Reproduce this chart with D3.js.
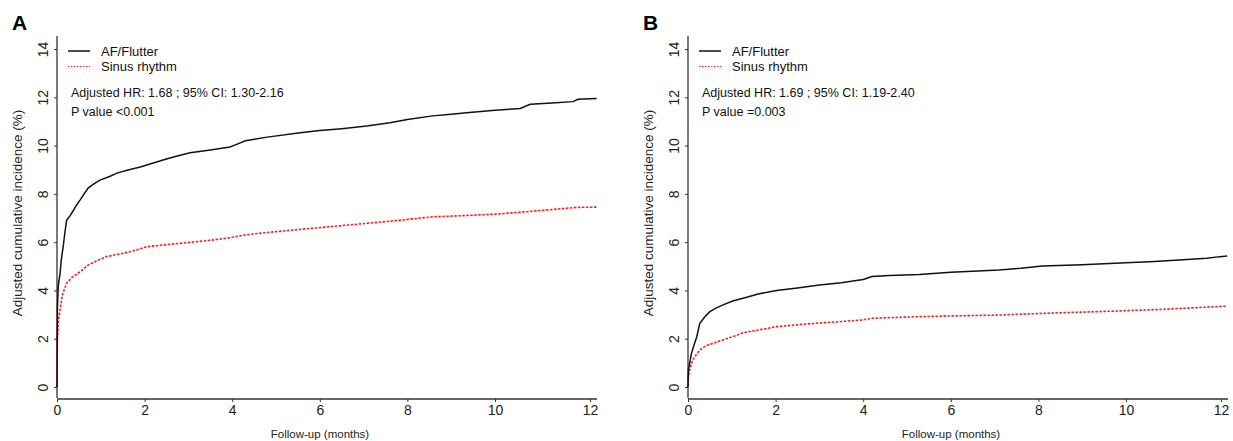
<!DOCTYPE html>
<html>
<head>
<meta charset="utf-8">
<script src="https://cdn.jsdelivr.net/npm/d3@7"></script>
<style>
    body { margin: 0; background: #fff; }
    svg { font-family: "Liberation Sans", Arial, sans-serif; }
</style>
</head>
<body>
<div class="chart"></div>
<script>
// ---- data ----
var xTicks = [0, 2, 4, 6, 8, 10, 12];
var yTicks = [0, 2, 4, 6, 8, 10, 12, 14];
var seriesNames = ["AF/Flutter", "Sinus rhythm"];

// panel A
var timeA_af = [0, 0.01, 0.03, 0.07, 0.1, 0.14, 0.18, 0.22, 0.3, 0.37, 0.45, 0.53, 0.62, 0.71, 0.85, 0.98, 1.2, 1.37, 1.6, 1.9, 2.2, 2.42, 2.7, 3.04, 3.5, 3.95, 4.1, 4.3, 4.8, 5.55, 6.0, 6.5, 7.07, 7.6, 8.0, 8.58, 9.0, 9.35, 10.0, 10.53, 10.74, 11.2, 11.64, 11.75, 12.14];
var incA_af = [0, 3.3, 4.2, 4.7, 5.3, 5.8, 6.4, 6.9, 7.1, 7.3, 7.55, 7.75, 8.0, 8.24, 8.42, 8.57, 8.72, 8.86, 8.98, 9.11, 9.28, 9.4, 9.55, 9.7, 9.82, 9.94, 10.05, 10.2, 10.35, 10.53, 10.62, 10.7, 10.81, 10.95, 11.08, 11.23, 11.3, 11.36, 11.46, 11.54, 11.71, 11.76, 11.82, 11.92, 11.95];
var timeA_sr = [0, 0.01, 0.03, 0.07, 0.12, 0.22, 0.35, 0.53, 0.71, 0.9, 1.13, 1.4, 1.67, 2.05, 2.4, 2.81, 3.2, 3.56, 3.95, 4.3, 4.8, 5.55, 6.3, 7.07, 7.8, 8.58, 9.3, 10.1, 10.66, 11.2, 11.71, 12.14];
var incA_sr = [0, 2.0, 2.7, 3.2, 3.8, 4.3, 4.55, 4.78, 5.05, 5.22, 5.4, 5.5, 5.6, 5.81, 5.88, 5.95, 6.02, 6.09, 6.18, 6.3, 6.4, 6.53, 6.65, 6.78, 6.9, 7.05, 7.1, 7.17, 7.26, 7.35, 7.44, 7.45];
var statsA = ["Adjusted HR: 1.68 ; 95% CI: 1.30-2.16", "P value <0.001"];

// panel B
var timeB_af = [0, 0.01, 0.04, 0.08, 0.14, 0.2, 0.27, 0.38, 0.5, 0.65, 0.8, 1.02, 1.3, 1.6, 2.02, 2.5, 3.0, 3.5, 4.0, 4.2, 4.6, 5.28, 6.0, 7.1, 7.6, 8.09, 9.0, 10.0, 10.6, 11.2, 11.7, 11.98, 12.13];
var incB_af = [0, 0.7, 1.0, 1.4, 1.75, 2.08, 2.64, 2.9, 3.12, 3.28, 3.4, 3.56, 3.7, 3.85, 4.0, 4.1, 4.22, 4.32, 4.45, 4.58, 4.62, 4.66, 4.75, 4.85, 4.92, 5.01, 5.06, 5.15, 5.2, 5.27, 5.33, 5.4, 5.43];
var timeB_sr = [0, 0.01, 0.04, 0.08, 0.15, 0.27, 0.4, 0.57, 0.8, 1.02, 1.26, 1.6, 2.02, 2.5, 2.93, 3.5, 3.99, 4.22, 5.21, 6.2, 7.1, 8.09, 9.0, 10.0, 10.8, 11.62, 12.13];
var incB_sr = [0, 0.43, 0.7, 0.98, 1.25, 1.53, 1.7, 1.81, 1.95, 2.08, 2.25, 2.36, 2.5, 2.58, 2.64, 2.71, 2.78, 2.85, 2.91, 2.95, 2.98, 3.05, 3.1, 3.16, 3.22, 3.3, 3.35];
var statsB = ["Adjusted HR: 1.69 ; 95% CI: 1.19-2.40", "P value =0.003"];

// ==================================

var W = 1233, H = 441;
var svg = d3.select(".chart")
            .append("svg")
            .attr("width", W)
            .attr("height", H);

var zip = function(t, v) {
    return t.map(function(d, i) { return [d, v[i]]; });
};

var drawPanel = function(label, x0, af, sr, stats) {
    var g = svg.append("g");

    // the published axis is a bit uneven past 10 months
    var x = d3.scaleLinear().domain([0, 10, 12]).range([x0, x0 + 438, x0 + 533]);
    var y = d3.scaleLinear().domain([0, 14]).range([387, 49]);
    var axisY = 399;

    // x axis
    var xAxis = g.append("g")
        .attr("transform", "translate(0," + axisY + ")")
        .call(d3.axisBottom(x).tickValues(xTicks).tickSize(3).tickPadding(3.5).tickSizeOuter(0));
    xAxis.select(".domain").remove();
    xAxis.append("line")
        .attr("x1", x0).attr("x2", x0 + 540)
        .attr("stroke", "#333").attr("stroke-width", 1.3);
    xAxis.selectAll("text").attr("font-size", 14).attr("fill", "#222");
    xAxis.selectAll(".tick line").attr("stroke", "#333");

    // y axis
    var yAxis = g.append("g")
        .attr("transform", "translate(" + x0 + ",0)")
        .call(d3.axisLeft(y).tickValues(yTicks).tickSize(3).tickSizeOuter(0));
    yAxis.select(".domain").remove();
    yAxis.append("line")
        .attr("y1", 36).attr("y2", axisY - 1)
        .attr("stroke", "#333").attr("stroke-width", 1.3);
    yAxis.selectAll(".tick line").attr("stroke", "#333");
    yAxis.selectAll("text")
        .attr("x", null).attr("dy", null)
        .attr("transform", "translate(-9,0) rotate(-90)")
        .attr("text-anchor", "middle")
        .attr("font-size", 14).attr("fill", "#222");

    // axis titles
    g.append("text")
        .attr("x", x0 + 263).attr("y", 438)
        .attr("text-anchor", "middle")
        .attr("font-size", 11.5).attr("fill", "#222")
        .text("Follow-up (months)");
    g.append("text")
        .attr("transform", "translate(" + (x0 - 35) + ",213) rotate(-90)")
        .attr("text-anchor", "middle")
        .attr("font-size", 13.5).attr("fill", "#222")
        .text("Adjusted cumulative incidence (%)");

    // panel letter
    g.append("text")
        .attr("x", x0 - 45).attr("y", 30)
        .attr("font-size", 21).attr("font-weight", "bold")
        .text(label);

    // curves
    var line = d3.line()
        .x(function(d) { return x(d[0]); })
        .y(function(d) { return y(d[1]); });

    g.append("path")
        .datum(sr)
        .attr("d", line)
        .attr("fill", "none")
        .attr("stroke", "#ff1a1a")
        .attr("stroke-width", 1.6)
        .attr("stroke-dasharray", "2.5,1.5");
    g.append("path")
        .datum(af)
        .attr("d", line)
        .attr("fill", "none")
        .attr("stroke", "#111")
        .attr("stroke-width", 1.5);

    // legend
    var lg = g.append("g");
    lg.append("line")
        .attr("x1", x0 + 11).attr("x2", x0 + 33)
        .attr("y1", 51).attr("y2", 51)
        .attr("stroke", "#111").attr("stroke-width", 1.5);
    lg.append("line")
        .attr("x1", x0 + 11).attr("x2", x0 + 33)
        .attr("y1", 66.5).attr("y2", 66.5)
        .attr("stroke", "#ff1a1a").attr("stroke-width", 1.2)
        .attr("stroke-dasharray", "1.5,1.5");
    lg.selectAll("text.name")
        .data(seriesNames)
        .enter().append("text")
        .attr("class", "name")
        .attr("x", x0 + 44)
        .attr("y", function(d, i) { return 51 + i * 15.7; })
        .attr("dy", "0.35em")
        .attr("font-size", 13).attr("fill", "#111")
        .text(function(d) { return d; });
    lg.selectAll("text.stat")
        .data(stats)
        .enter().append("text")
        .attr("class", "stat")
        .attr("x", x0 + 14)
        .attr("y", function(d, i) { return 93 + i * 19; })
        .attr("dy", "0.35em")
        .attr("font-size", 12.5).attr("fill", "#111")
        .text(function(d) { return d; });
};

drawPanel("A", 57, zip(timeA_af, incA_af), zip(timeA_sr, incA_sr), statsA);
drawPanel("B", 688, zip(timeB_af, incB_af), zip(timeB_sr, incB_sr), statsB);
</script>
</body>
</html>
